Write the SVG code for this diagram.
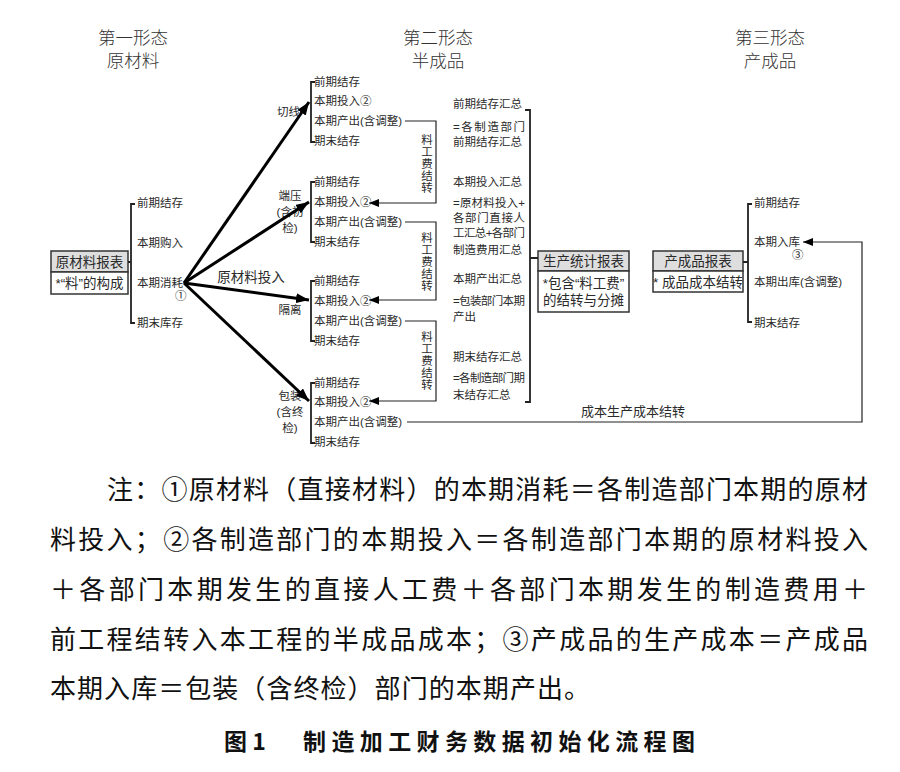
<svg xmlns="http://www.w3.org/2000/svg" width="900" height="772" viewBox="0 0 900 772">
<defs>
<style>
.t{font-family:"Liberation Sans","Noto Sans CJK SC",sans-serif;font-size:11.5px;fill:#2a2a2a}
.h{font-family:"Noto Sans CJK SC",sans-serif;font-size:17.5px;fill:#333;font-weight:300;text-anchor:middle}
.bx{font-family:"Liberation Sans","Noto Sans CJK SC",sans-serif;font-size:13.5px;fill:#2a2a2a;text-anchor:middle}
.n{font-family:"Noto Sans CJK SC",sans-serif;font-size:26px;fill:#111}
.cap{font-family:"Noto Sans CJK SC",sans-serif;font-size:23px;font-weight:bold;fill:#111}
.br{fill:none;stroke:#222;stroke-width:1.8}
.thin{fill:none;stroke:#222;stroke-width:1.2}
.fan{fill:none;stroke:#000;stroke-width:3}
.box{fill:#fff;stroke:#333;stroke-width:1.5}
.hd{fill:#dedede;stroke:#333;stroke-width:1.5}
</style>
<marker id="big" markerUnits="userSpaceOnUse" markerWidth="13" markerHeight="10" refX="13" refY="5" orient="auto">
<path d="M0,0 L13,5 L0,10 z" fill="#000"/>
</marker>
<marker id="sm" markerUnits="userSpaceOnUse" markerWidth="10" markerHeight="8" refX="10" refY="4" orient="auto">
<path d="M0,0 L10,4 L0,8 z" fill="#000"/>
</marker>
</defs>
<rect width="900" height="772" fill="#fff"/>

<g id="headers">
<text class="h" x="133" y="44">第一形态</text>
<text class="h" x="133" y="67">原材料</text>
<text class="h" x="438" y="44">第二形态</text>
<text class="h" x="438" y="67">半成品</text>
<text class="h" x="770" y="44">第三形态</text>
<text class="h" x="770" y="67">产成品</text>
</g>

<g id="raw-report">
<rect class="hd" x="51" y="251" width="77" height="21"/>
<rect class="box" x="51" y="272" width="77" height="22"/>
<text class="bx" x="89.5" y="266.5">原材料报表</text>
<text class="bx" x="89.5" y="288">*“料”的构成</text>
</g>

<g id="raw-items">
<text class="t" x="137" y="207">前期结存</text>
<text class="t" x="137" y="247">本期购入</text>
<text class="t" x="137" y="287">本期消耗</text>
<text class="t" x="175" y="300">①</text>
<text class="t" x="137" y="327">期末库存</text>
</g>

<g id="dept-qiexian">
<text class="t" x="277" y="116">切线</text>
<text class="t" x="314" y="86">前期结存</text>
<text class="t" x="314" y="105">本期投入②</text>
<text class="t" x="314" y="125">本期产出(含调整)</text>
<text class="t" x="314" y="145">期末结存</text>
</g>

<g id="dept-duanya">
<text class="t" x="290" y="200" text-anchor="middle">端压</text>
<text class="t" x="290" y="216" text-anchor="middle">(含初</text>
<text class="t" x="290" y="232" text-anchor="middle">检)</text>
<text class="t" x="314" y="186">前期结存</text>
<text class="t" x="314" y="206">本期投入②</text>
<text class="t" x="314" y="226">本期产出(含调整)</text>
<text class="t" x="314" y="246">期末结存</text>
</g>

<g id="dept-geli">
<text class="t" x="290" y="314" text-anchor="middle">隔离</text>
<text class="t" x="314" y="285">前期结存</text>
<text class="t" x="314" y="305">本期投入②</text>
<text class="t" x="314" y="325">本期产出(含调整)</text>
<text class="t" x="314" y="345">期末结存</text>
</g>

<g id="dept-baozhuang">
<text class="t" x="290" y="400" text-anchor="middle">包装</text>
<text class="t" x="290" y="416" text-anchor="middle">(含终</text>
<text class="t" x="290" y="432" text-anchor="middle">检)</text>
<text class="t" x="314" y="387">前期结存</text>
<text class="t" x="314" y="406">本期投入②</text>
<text class="t" x="314" y="426">本期产出(含调整)</text>
<text class="t" x="314" y="446">期末结存</text>
</g>

<g id="summary-items">
<text class="t" x="453" y="108">前期结存汇总</text>
<text class="t" x="453" y="131" textLength="72" lengthAdjust="spacing">=各制造部门</text>
<text class="t" x="453" y="146">前期结存汇总</text>
<text class="t" x="453" y="186">本期投入汇总</text>
<text class="t" x="453" y="207" textLength="72" lengthAdjust="spacing">=原材料投入+</text>
<text class="t" x="453" y="222" textLength="72" lengthAdjust="spacing">各部门直接人</text>
<text class="t" x="453" y="237" textLength="72" lengthAdjust="spacing">工汇总+各部门</text>
<text class="t" x="453" y="254">制造费用汇总</text>
<text class="t" x="453" y="283">本期产出汇总</text>
<text class="t" x="453" y="305" textLength="72" lengthAdjust="spacing">=包装部门本期</text>
<text class="t" x="453" y="321">产出</text>
<text class="t" x="453" y="361">期末结存汇总</text>
<text class="t" x="453" y="382" textLength="72" lengthAdjust="spacing">=各制造部门期</text>
<text class="t" x="453" y="399">末结存汇总</text>
</g>

<g id="prod-report">
<rect class="hd" x="538" y="251" width="91" height="20"/>
<rect class="box" x="538" y="271" width="91" height="41"/>
<text class="bx" x="583.5" y="266">生产统计报表</text>
<text class="bx" x="583.5" y="288">*包含“料工费”</text>
<text class="bx" x="583.5" y="305">的结转与分摊</text>
</g>

<g id="fin-report">
<rect class="hd" x="653" y="251" width="90" height="20"/>
<rect class="box" x="653" y="271" width="90" height="21"/>
<text class="bx" x="698" y="266">产成品报表</text>
<text class="bx" x="698" y="287">* 成品成本结转</text>
</g>

<g id="fin-items">
<text class="t" x="754" y="207">前期结存</text>
<text class="t" x="754" y="246">本期入库</text>
<text class="t" x="792" y="259">③</text>
<text class="t" x="754" y="286">本期出库(含调整)</text>
<text class="t" x="754" y="327">期末结存</text>
</g>

<g id="connectors">
<!-- left bracket -->
<path class="br" d="M128,262 H131 M135,204 H131 V323 H135"/>
<!-- dept brackets -->
<path class="br" d="M315,82 H311 V142 H315"/>
<path class="br" d="M315,182 H311 V242 H315"/>
<path class="br" d="M315,281 H311 V341 H315"/>
<path class="br" d="M315,383 H311 V443 H315"/>
<!-- summary bracket -->
<path class="br" d="M525,110 H530 V402 H525 M530,258 H538"/>
<!-- finished bracket -->
<path class="br" d="M743,262 H748 M752,204 H748 V322 H752"/>
<!-- fan -->
<line class="fan" x1="184" y1="283" x2="309" y2="102" marker-end="url(#big)"/>
<line class="fan" x1="184" y1="283" x2="309" y2="202" marker-end="url(#big)"/>
<line class="fan" x1="184" y1="283" x2="309" y2="300" marker-end="url(#big)"/>
<line class="fan" x1="184" y1="283" x2="309" y2="401" marker-end="url(#big)"/>
<text class="bx" x="251" y="282">原材料投入</text>
<!-- 料工费结转 -->
<path class="thin" d="M405,121 H436 V203 H369" marker-end="url(#sm)"/>
<path class="thin" d="M405,222 H436 V300 H369" marker-end="url(#sm)"/>
<path class="thin" d="M405,321 H436 V401 H369" marker-end="url(#sm)"/>
<text class="t" x="427" text-anchor="middle"><tspan x="427" y="144">料</tspan><tspan x="427" y="156">工</tspan><tspan x="427" y="168">费</tspan><tspan x="427" y="180">结</tspan><tspan x="427" y="192">转</tspan></text>
<text class="t" x="427" text-anchor="middle"><tspan x="427" y="242">料</tspan><tspan x="427" y="254">工</tspan><tspan x="427" y="266">费</tspan><tspan x="427" y="278">结</tspan><tspan x="427" y="290">转</tspan></text>
<text class="t" x="427" text-anchor="middle"><tspan x="427" y="341">料</tspan><tspan x="427" y="353">工</tspan><tspan x="427" y="365">费</tspan><tspan x="427" y="377">结</tspan><tspan x="427" y="389">转</tspan></text>
<!-- cost transfer -->
<path class="thin" d="M407,422 H862 V242 H803" marker-end="url(#sm)"/>
<text class="t" x="581" y="416" style="font-size:13px">成本生产成本结转</text>
</g>

<g id="notes">
<text class="n" x="107" y="499" textLength="761" lengthAdjust="spacing">注：①原材料（直接材料）的本期消耗＝各制造部门本期的原材</text>
<text class="n" x="50" y="549" textLength="818" lengthAdjust="spacing">料投入；②各制造部门的本期投入＝各制造部门本期的原材料投入</text>
<text class="n" x="50" y="599" textLength="818" lengthAdjust="spacing">＋各部门本期发生的直接人工费＋各部门本期发生的制造费用＋</text>
<text class="n" x="50" y="649" textLength="818" lengthAdjust="spacing">前工程结转入本工程的半成品成本；③产成品的生产成本＝产成品</text>
<text class="n" x="50" y="698" textLength="540" lengthAdjust="spacing">本期入库＝包装（含终检）部门的本期产出。</text>
<text class="cap" x="224" y="750">图 1</text>
<text class="cap" x="303" y="750" textLength="392" lengthAdjust="spacing">制造加工财务数据初始化流程图</text>
</g>
</svg>
